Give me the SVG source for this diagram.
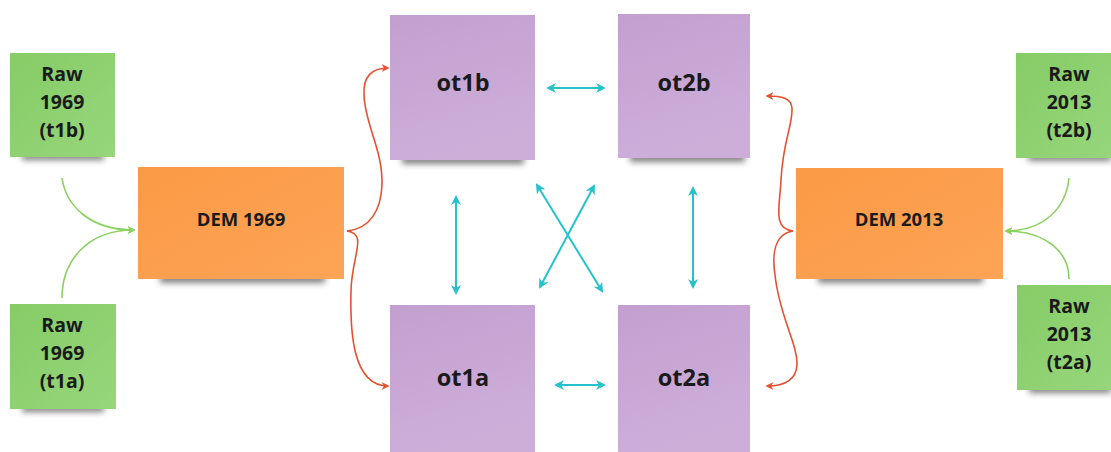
<svg xmlns="http://www.w3.org/2000/svg" width="1111" height="452" viewBox="0 0 1111 452">
  <defs>
    <filter id="soft" x="-20%" y="-100%" width="140%" height="300%">
      <feGaussianBlur stdDeviation="3"/>
    </filter>
    <linearGradient id="gGreen" x1="0" y1="0" x2="1" y2="1">
      <stop offset="0" stop-color="#86cc66"/>
      <stop offset="1" stop-color="#97d67c"/>
    </linearGradient>
    <linearGradient id="gOrange" x1="0" y1="0" x2="1" y2="1">
      <stop offset="0" stop-color="#fb9a46"/>
      <stop offset="1" stop-color="#fda456"/>
    </linearGradient>
    <linearGradient id="gPurple" x1="0" y1="0" x2="0.3" y2="1">
      <stop offset="0" stop-color="#c39fd0"/>
      <stop offset="1" stop-color="#cdaed9"/>
    </linearGradient>
    <marker id="headCyan" viewBox="0 0 10 10" refX="8" refY="5" markerWidth="5" markerHeight="5" orient="auto-start-reverse">
      <path d="M0,0 L10,5 L0,10 L3,5 Z" fill="#26c2cc"/>
    </marker>
    <marker id="headRed" viewBox="0 0 10 10" refX="8" refY="5" markerWidth="5" markerHeight="5" orient="auto">
      <path d="M0,0 L10,5 L0,10 L3,5 Z" fill="#e5512f"/>
    </marker>
    <marker id="headGreen" viewBox="0 0 10 10" refX="8" refY="5" markerWidth="5" markerHeight="5" orient="auto">
      <path d="M0,0 L10,5 L0,10 L3,5 Z" fill="#8ad15f"/>
    </marker>
  </defs>
  <style>
    .label { font-family: "Open Sans", "Noto Sans", "Liberation Sans", sans-serif; font-weight: 700; fill: #1a1a1a; text-anchor: middle; }
    .raw { font-size: 19.5px; }
    .dem { font-size: 18.5px; }
    .ot { font-size: 23.5px; }
    .shadow { fill: #000; opacity: 0.5; }
    .green { fill: url(#gGreen); }
    .orange { fill: url(#gOrange); }
    .purple { fill: url(#gPurple); }
    .cyan { fill: none; stroke: #26c2cc; stroke-width: 2; marker-start: url(#headCyan); marker-end: url(#headCyan); }
    .red { fill: none; stroke: #e5512f; stroke-width: 1.6; marker-end: url(#headRed); }
    .lime { fill: none; stroke: #8ad15f; stroke-width: 1.6; }
  </style>

  <rect width="1111" height="452" fill="#ffffff"/>

  <!-- raw inputs, left -->
  <g id="raw-1969-t1b">
    <rect class="shadow" x="22" y="152" width="82" height="8" filter="url(#soft)"/>
    <rect class="green" x="10" y="53" width="105" height="104"/>
    <text class="label raw" x="62" y="81">Raw</text>
    <text class="label raw" x="62" y="109">1969</text>
    <text class="label raw" x="62" y="137">(t1b)</text>
  </g>
  <g id="raw-1969-t1a">
    <rect class="shadow" x="22" y="404" width="82" height="8" filter="url(#soft)"/>
    <rect class="green" x="10" y="304" width="106" height="105"/>
    <text class="label raw" x="62" y="332">Raw</text>
    <text class="label raw" x="62" y="360">1969</text>
    <text class="label raw" x="62" y="388">(t1a)</text>
  </g>

  <!-- DEMs -->
  <g id="dem-1969">
    <rect class="shadow" x="160" y="274" width="165" height="9" filter="url(#soft)"/>
    <rect class="orange" x="138" y="167" width="206" height="112"/>
    <text class="label dem" x="241" y="226">DEM 1969</text>
  </g>
  <g id="dem-2013">
    <rect class="shadow" x="818" y="274" width="165" height="9" filter="url(#soft)"/>
    <rect class="orange" x="796" y="168" width="207" height="111"/>
    <text class="label dem" x="899" y="226">DEM 2013</text>
  </g>

  <!-- orthophotos -->
  <g id="ot1b">
    <rect class="shadow" x="402" y="155" width="122" height="9" filter="url(#soft)"/>
    <rect class="purple" x="390" y="15" width="145" height="145"/>
    <text class="label ot" x="463" y="91">ot1b</text>
  </g>
  <g id="ot2b">
    <rect class="shadow" x="630" y="153" width="115" height="9" filter="url(#soft)"/>
    <rect class="purple" x="618" y="14" width="132" height="144"/>
    <text class="label ot" x="684" y="91">ot2b</text>
  </g>
  <g id="ot1a">
    <rect class="purple" x="390" y="305" width="145" height="147"/>
    <text class="label ot" x="463" y="386">ot1a</text>
  </g>
  <g id="ot2a">
    <rect class="purple" x="618" y="305" width="132" height="147"/>
    <text class="label ot" x="684" y="386">ot2a</text>
  </g>

  <!-- raw inputs, right -->
  <g id="raw-2013-t2b">
    <rect class="shadow" x="1028" y="153" width="83" height="8" filter="url(#soft)"/>
    <rect class="green" x="1016" y="53" width="95" height="105"/>
    <text class="label raw" x="1069" y="81">Raw</text>
    <text class="label raw" x="1069" y="109">2013</text>
    <text class="label raw" x="1069" y="137">(t2b)</text>
  </g>
  <g id="raw-2013-t2a">
    <rect class="shadow" x="1029" y="385" width="82" height="8" filter="url(#soft)"/>
    <rect class="green" x="1017" y="285" width="94" height="105"/>
    <text class="label raw" x="1069" y="313">Raw</text>
    <text class="label raw" x="1069" y="341">2013</text>
    <text class="label raw" x="1069" y="369">(t2a)</text>
  </g>

  <g id="connectors">
    <!-- raw images merged into DEMs -->
    <path class="lime" d="M62,178 C66,206 90,230 134,230" marker-end="url(#headGreen)"/>
    <path class="lime" d="M62,298 C62,262 86,230 134,230" marker-end="url(#headGreen)"/>
    <path class="lime" d="M1069,178 C1066,208 1044,231 1006,231" marker-end="url(#headGreen)"/>
    <path class="lime" d="M1069,279 C1069,252 1046,231 1006,231" marker-end="url(#headGreen)"/>

    <!-- DEMs feeding orthophotos -->
    <path class="red" d="M347,231 C370,229 381,210 382,185 C383,150 365,125 364,95 C363,76 372,68 388,68"/>
    <path class="red" d="M347,231 C368,234 352,255 351,290 C350,330 352,386 388,386"/>
    <path class="red" d="M793,231 C772,229 780,205 781,180 C783,140 793,125 792,108 C791,98 782,96 767,96"/>
    <path class="red" d="M793,231 C774,234 772,255 775,275 C779,315 798,345 797,365 C796,380 784,386 767,386"/>

    <!-- orthophoto comparisons -->
    <path class="cyan" d="M548,88 L604,88"/>
    <path class="cyan" d="M556,385 L604,385"/>
    <path class="cyan" d="M456,197 L456,293"/>
    <path class="cyan" d="M693,188 L693,287"/>
    <path class="cyan" d="M537,185 L602,291"/>
    <path class="cyan" d="M594,186 L540,287"/>
  </g>
</svg>
